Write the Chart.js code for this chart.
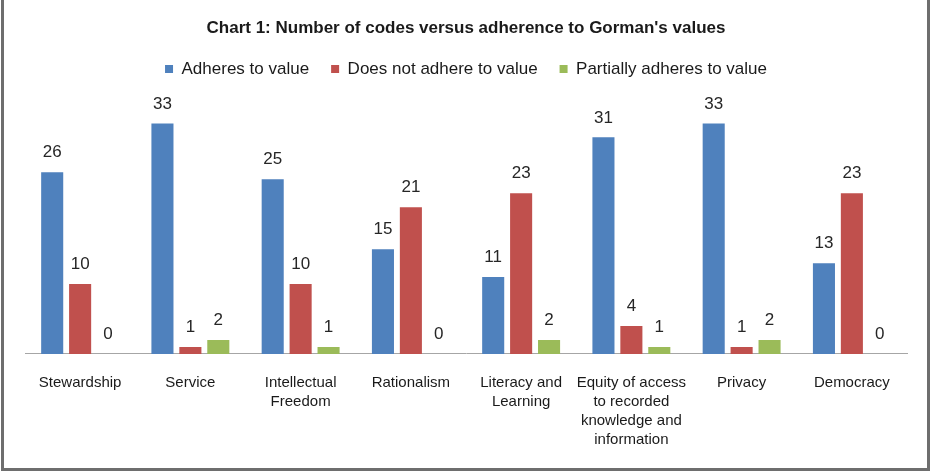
<!DOCTYPE html>
<html lang="en">
<head>
    <meta charset="UTF-8">
    <title>Chart 1: Number of codes versus adherence to Gorman's values</title>
    <script src="https://cdn.jsdelivr.net/npm/chart.js"></script>
    <style>
        html, body { margin: 0; padding: 0; background: #fff; }
        #wrap { position: relative; width: 932px; height: 472px; }
        #frame {
            position: absolute; left: 1px; top: -4px; width: 929px; height: 475px;
            box-sizing: border-box; border: 3px solid #6e6e6e; pointer-events: none;
        }
    </style>
</head>
<body>
    <div id="wrap">
        <canvas id="codesChart" width="932" height="472"></canvas>
        <div id="frame"></div>
    </div>

    <script>
        const categories = [
            'Stewardship',
            'Service',
            ['Intellectual', 'Freedom'],
            'Rationalism',
            ['Literacy and', 'Learning'],
            ['Equity of access', 'to recorded', 'knowledge and', 'information'],
            'Privacy',
            'Democracy'
        ];
        const adheres = [26, 33, 25, 15, 11, 31, 33, 13];
        const doesNotAdhere = [10, 1, 10, 21, 23, 4, 1, 23];
        const partiallyAdheres = [0, 2, 1, 0, 2, 1, 2, 0];

        const fontFamily = '"Liberation Sans", Arial, sans-serif';

        // value labels above each bar
        const barLabels = {
            id: 'barLabels',
            afterDatasetsDraw(chart) {
                const ctx = chart.ctx;
                ctx.save();
                ctx.font = '17px ' + fontFamily;
                ctx.fillStyle = '#262626';
                ctx.textAlign = 'center';
                ctx.textBaseline = 'bottom';
                chart.data.datasets.forEach((ds, i) => {
                    chart.getDatasetMeta(i).data.forEach((bar, j) => {
                        ctx.fillText(ds.data[j], bar.x, bar.y - 11);
                    });
                });
                ctx.restore();
            }
        };

        // extra room under the legend
        const legendMargin = {
            id: 'legendMargin',
            beforeInit(chart) {
                const fit = chart.legend.fit;
                chart.legend.fit = function () {
                    fit.bind(chart.legend)();
                    this.height += 22;
                };
            }
        };

        new Chart(document.getElementById('codesChart'), {
            type: 'bar',
            data: {
                labels: categories,
                datasets: [
                    { label: 'Adheres to value', data: adheres, backgroundColor: '#4F81BD' },
                    { label: 'Does not adhere to value', data: doesNotAdhere, backgroundColor: '#C0504D' },
                    { label: 'Partially adheres to value', data: partiallyAdheres, backgroundColor: '#9BBB59' }
                ]
            },
            options: {
                responsive: false,
                animation: false,
                devicePixelRatio: 1,
                layout: { padding: { left: 25, right: 25, top: 0, bottom: 12 } },
                datasets: {
                    bar: { barPercentage: 0.79, categoryPercentage: 0.76 }
                },
                plugins: {
                    title: {
                        display: true,
                        text: "Chart 1: Number of codes versus adherence to Gorman's values",
                        color: '#1a1a1a',
                        font: { family: fontFamily, size: 17, weight: 'bold', lineHeight: 1.2 },
                        padding: { top: 18, bottom: 0 }
                    },
                    legend: {
                        display: true,
                        labels: {
                            color: '#1a1a1a',
                            font: { family: fontFamily, size: 17 },
                            boxWidth: 8,
                            boxHeight: 8,
                            padding: 22
                        }
                    },
                    tooltip: { enabled: false }
                },
                scales: {
                    x: {
                        grid: { display: false },
                        border: { display: true, color: '#a6a6a6', width: 1 },
                        ticks: {
                            color: '#1a1a1a',
                            font: { family: fontFamily, size: 15, lineHeight: 1.267 },
                            padding: 11,
                            maxRotation: 0,
                            autoSkip: false
                        }
                    },
                    y: {
                        display: false,
                        min: 0,
                        max: 35
                    }
                }
            },
            plugins: [barLabels, legendMargin]
        });
    </script>
</body>
</html>
